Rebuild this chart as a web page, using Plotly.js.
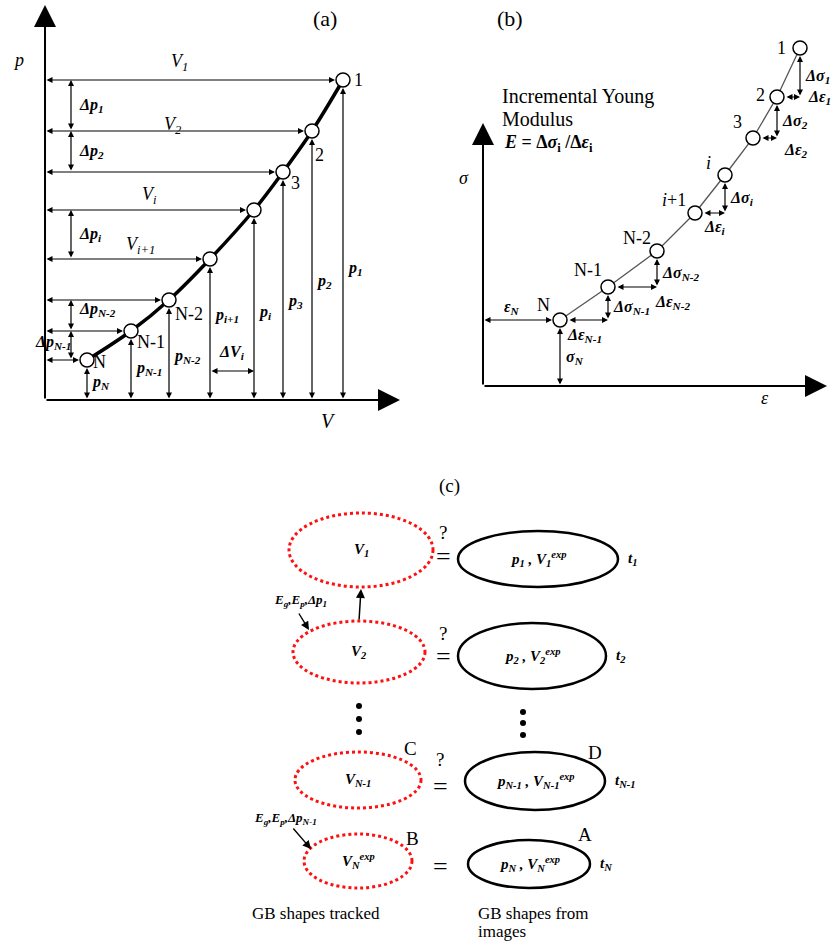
<!DOCTYPE html>
<html><head><meta charset="utf-8">
<script src="https://cdn.plot.ly/plotly-3.0.1.min.js"></script>
<style>html,body{margin:0;padding:0;background:#fff}</style>
</head><body><div id="chart" style="width:838px;height:944px"></div>
<script>
// ---------------- DATA ----------------
// Panel (a): pressure-volume path, points 1 ... N
const aNames = ['1','2','3','i','i+1','N-2','N-1','N'];
const aV = [298, 267, 238, 209, 165, 124, 86, 42];
const aP = [320, 269, 228, 190, 141, 100, 69, 40];
const aPointLabels = ['1','2','3','','','N-2','N-1','N'];
const aVLabels = ['V<sub>1</sub>','V<sub>2</sub>','','V<sub>i</sub>','V<sub>i+1</sub>','','',''];
const aPLabels = ['p<sub>1</sub>','p<sub>2</sub>','p<sub>3</sub>','p<sub>i</sub>','p<sub>i+1</sub>','p<sub>N-2</sub>','p<sub>N-1</sub>','p<sub>N</sub>'];
const aDpPairs = [[0,1],[1,2],[3,4],[5,6],[6,7]];
const aDpLabels = ['Δp<sub>1</sub>','Δp<sub>2</sub>','Δp<sub>i</sub>','Δp<sub>N-2</sub>','Δp<sub>N-1</sub>'];

// Panel (b): stress-strain path, points 1 ... N
const bNames = ['1','2','3','i','i+1','N-2','N-1','N'];
const bEps = [317, 294, 270, 242, 212, 174, 125, 77];
const bSig = [338, 289, 248, 211, 173, 135, 99, 66];
const bSteps = [[1,0],[2,1],[4,3],[6,5],[7,6]];   // [lower point, upper point]
const bDSigLabels = ['Δσ<sub>1</sub>','Δσ<sub>2</sub>','Δσ<sub>i</sub>','Δσ<sub>N-2</sub>','Δσ<sub>N-1</sub>'];
const bDEpsLabels = ['Δε<sub>1</sub>','Δε<sub>2</sub>','Δε<sub>i</sub>','Δε<sub>N-2</sub>','Δε<sub>N-1</sub>'];

// Panel (c): tracked vs imaged GB shapes
const cTracked = ['V<sub>1</sub>','V<sub>2</sub>','V<sub>N-1</sub>','V<sub>N</sub><sup>exp</sup>'];
const cImaged = ['p<sub>1</sub> , V<sub>1</sub><sup>exp</sup>','p<sub>2</sub> , V<sub>2</sub><sup>exp</sup>','p<sub>N-1</sub> , V<sub>N-1</sub><sup>exp</sup>','p<sub>N</sub> , V<sub>N</sub><sup>exp</sup>'];
const cTimes = ['t<sub>1</sub>','t<sub>2</sub>','t<sub>N-1</sub>','t<sub>N</sub>'];
const cRelation = ['?','?','?',''];
const cInputs = ['E<sub>g</sub>,E<sub>p</sub>,Δp<sub>1</sub>','E<sub>g</sub>,E<sub>p</sub>,Δp<sub>N-1</sub>'];

// ---------------- LAYOUT GEOMETRY (pixels) ----------------
const redGeo = [[361,550,72,37],[359,652,66,31],[358,780,63,28],[358,861,54,27]];
const blackGeo = [[538,559,80,28],[532,656,74,33],[535,781,70,29],[529,864,61,24]];
const relX = [443,443,440,440], eqY = [556,656,786,866], qY = [532,633,759];
const dotsL = {x:[359,359,359], y:[706,719,732]};
const dotsR = {x:[523,523,523], y:[712,723,735]};

const ann = [], shapes = [];
const SER = 'Liberation Serif, Times New Roman, serif';
function arr(xr, yr, x0, y0, x1, y1, both, w, s) {
  ann.push({xref:xr, yref:yr, axref:xr, ayref:yr, x:x1, y:y1, ax:x0, ay:y0, text:'', showarrow:true,
    arrowhead:2, arrowsize:s||1, arrowwidth:w||1.2, arrowcolor:'#000', arrowside: both?'end+start':'end',
    startarrowhead:2, startarrowsize:s||1, standoff:0, startstandoff:0});
}
function txt(xr, yr, x, y, t, o) {
  ann.push(Object.assign({xref:xr, yref:yr, x:x, y:y, text:t, showarrow:false,
    font:{family:SER, size:16, color:'#000'}}, o||{}));
}
const bi = t => '<b><i>' + t + '</i></b>';
const R = 8;

// ---------- Panel (a) ----------
arr('x','y',0,0,0,395,false,2,2.2);
arr('x','y',0,0,355,0,false,2,2.2);
const aVfrac = [0.45,0.48,0,0.5,0.58,0,0,0], aVdy = [16,4,0,13,12,0,0,0];
const aPfrac = [0.41,0.44,0.43,0.46,0.6,0.44,0.46,0.43];
const aLdx = [9,1,6,0,0,4,4,4], aLdy = [0,24,11,0,0,14,11,2];
aV.forEach((v,k) => {
  arr('x','y',0,aP[k],v-R,aP[k],true);
  arr('x','y',v,0,v,aP[k]-R,true);
  if (aVLabels[k]) txt('x','y',v*aVfrac[k],aP[k],'<i>'+aVLabels[k]+'</i>',{yshift:aVdy[k]+2, font:{family:SER,size:18,color:'#000'}});
  txt('x','y',v+2,aP[k]*aPfrac[k],bi(aPLabels[k]),{xanchor:'left'});
  if (aPointLabels[k]) txt('x','y',v+aLdx[k],aP[k],aPointLabels[k],{xanchor:'left',yshift:-aLdy[k],font:{family:SER,size:18,color:'#000'}});
});
aDpPairs.forEach((pr,j) => {
  arr('x','y',26,aP[pr[1]],26,aP[pr[0]],true);
  const mid = (aP[pr[0]]+aP[pr[1]])/2;
  if (j < 4) txt('x','y',32,mid,bi(aDpLabels[j]),{xanchor:'left', yshift: j===3?6:0});
  else txt('x','y',28,mid,bi(aDpLabels[j]),{xanchor:'right', yshift:3});
});
// ΔV_i
arr('x','y',aV[4],29,aV[3],29,true);
txt('x','y',(aV[3]+aV[4])/2,48,bi('ΔV<sub>i</sub>'));

// ---------- Panel (b) ----------
arr('x2','y2',0,0,0,263,false,2,2.2);
arr('x2','y2',0,0,344,0,false,2,2.2);
const N = bEps.length-1;
arr('x2','y2',0,bSig[N],bEps[N]-R,bSig[N],true);
txt('x2','y2',29,bSig[N],bi('ε<sub>N</sub>'),{yshift:13});
arr('x2','y2',bEps[N],0,bEps[N],bSig[N]-R,true);
txt('x2','y2',bEps[N]+4,29,bi('σ<sub>N</sub>'),{xanchor:'left'});
const epsPlace = [{xa:'left',dx:6,dy:0},{xa:'left',dx:5,dy:-12},{xa:'center',dx:5,dy:-14},{xa:'left',dx:-4,dy:-15},{xa:'center',dx:0,dy:-15}];
bSteps.forEach((st,j) => {
  const lo = st[0], up = st[1];
  arr('x2','y2',bEps[lo]+R,bSig[lo],bEps[up],bSig[lo],true);
  arr('x2','y2',bEps[up],bSig[lo],bEps[up],bSig[up]-R,true);
  txt('x2','y2',bEps[up]+3,(bSig[lo]+bSig[up]-R)/2,bi(bDSigLabels[j]),{xanchor:'left'});
  const pl = epsPlace[j];
  const ex = pl.xa==='center' ? (bEps[lo]+bEps[up])/2 : bEps[up];
  txt('x2','y2',ex+pl.dx,bSig[lo],bi(bDEpsLabels[j]),{xanchor:pl.xa, yshift:pl.dy});
});
const bLdx = [-12,-10,-9,-12,-7,-4,-4,-8], bLdy = [0,-2,-16,-12,-13,-13,-17,-15];
bNames.forEach((n,k) => {
  txt('x2','y2',bEps[k]+bLdx[k],bSig[k],n.replace(/^i/,'<i>i</i>'),{xanchor:'right',yshift:-bLdy[k],font:{family:SER,size:18,color:'#000'}});
});
txt('x3','y3',510,18,'(b)',{font:{family:SER,size:22,color:'#000'}});
txt('x3','y3',500,96,'Incremental Young',{xanchor:'left',font:{family:SER,size:20,color:'#000'}});
txt('x3','y3',500,119,'Modulus',{xanchor:'left',font:{family:SER,size:20,color:'#000'}});
txt('x3','y3',502,143,'<b><i>E</i> = Δ<i>σ</i><sub>i</sub> /Δ<i>ε</i><sub>i</sub></b>',{xanchor:'left',font:{family:SER,size:18,color:'#000'}});
txt('x3','y3',464,178,'<i>σ</i>',{font:{family:SER,size:18,color:'#000'}});
txt('x3','y3',765,398,'<i>ε</i>',{font:{family:SER,size:18,color:'#000'}});

// panel (a) text
txt('x3','y3',325,18,'(a)',{font:{family:SER,size:22,color:'#000'}});
txt('x3','y3',18,60,'<i>p</i>',{font:{family:SER,size:18,color:'#000'}});
txt('x3','y3',328,421,'<i>V</i>',{font:{family:SER,size:20,color:'#000'}});

// ---------- Panel (c) ----------
txt('x3','y3',449,486,'(c)',{font:{family:SER,size:19,color:'#000'}});
redGeo.forEach((g,k) => {
  shapes.push({type:'circle',xref:'x3',yref:'y3',x0:g[0]-g[2],x1:g[0]+g[2],y0:g[1]-g[3],y1:g[1]+g[3],
    line:{color:'#ff1010',width:3,dash:'dot'}});
  txt('x3','y3',g[0],g[1],bi(cTracked[k]),{font:{family:SER,size:15,color:'#000'}});
});
blackGeo.forEach((g,k) => {
  shapes.push({type:'circle',xref:'x3',yref:'y3',x0:g[0]-g[2],x1:g[0]+g[2],y0:g[1]-g[3],y1:g[1]+g[3],
    line:{color:'#000',width:2.5}});
  txt('x3','y3',g[0],g[1],bi(cImaged[k]),{font:{family:SER,size:15,color:'#000'}});
  txt('x3','y3',g[0]+g[2]+8,g[1],bi(cTimes[k]),{xanchor:'left',font:{family:SER,size:15,color:'#000'}});
  txt('x3','y3',relX[k],eqY[k],'=',{font:{family:SER,size:26,color:'#000'}});
  if (cRelation[k]) txt('x3','y3',relX[k],qY[k],cRelation[k],{font:{family:SER,size:19,color:'#000'}});
});
arr('x3','y3',redGeo[1][0],redGeo[1][1]-redGeo[1][3],redGeo[0][0],redGeo[0][1]+redGeo[0][3]+2,false,1.5,1.2);
txt('x3','y3',300,600,bi(cInputs[0]),{font:{family:SER,size:13,color:'#000'}});
arr('x3','y3',298,612,309,630,false,1.4,1.2);
txt('x3','y3',285,818,bi(cInputs[1]),{font:{family:SER,size:13,color:'#000'}});
arr('x3','y3',292,827,311,849,false,1.4,1.2);
txt('x3','y3',410,748,'C',{font:{family:SER,size:19,color:'#000'}});
txt('x3','y3',595,752,'D',{font:{family:SER,size:19,color:'#000'}});
txt('x3','y3',412,838,'B',{font:{family:SER,size:19,color:'#000'}});
txt('x3','y3',585,834,'A',{font:{family:SER,size:19,color:'#000'}});
txt('x3','y3',316,913,'GB shapes tracked',{font:{family:SER,size:17,color:'#000'}});
txt('x3','y3',476,913,'GB shapes from',{xanchor:'left',font:{family:SER,size:17,color:'#000'}});
txt('x3','y3',476,943,'images',{xanchor:'left',yanchor:'bottom',font:{family:SER,size:17,color:'#000'}});

// ---------------- TRACES ----------------
const mk = {size:14, color:'#fff', line:{width:1.5, color:'#000'}};
const traces = [
  {x:aV, y:aP, xaxis:'x', yaxis:'y', mode:'lines+markers', line:{shape:'spline', width:3.5, color:'#000'}, marker:mk, cliponaxis:false},
  {x:bEps, y:bSig, xaxis:'x2', yaxis:'y2', mode:'lines+markers', line:{width:1.3, color:'#555'}, marker:mk, cliponaxis:false},
  {x:dotsL.x, y:dotsL.y, xaxis:'x3', yaxis:'y3', mode:'markers', marker:{size:6,color:'#000'}},
  {x:dotsR.x, y:dotsR.y, xaxis:'x3', yaxis:'y3', mode:'markers', marker:{size:6,color:'#000'}}
];
const ax = r => ({domain:[0,1], range:r, visible:false, fixedrange:true});
const layout = {
  width:838, height:944, margin:{l:0,r:0,t:0,b:0}, showlegend:false, hovermode:false,
  paper_bgcolor:'#fff', plot_bgcolor:'rgba(0,0,0,0)', font:{family:SER, color:'#000'},
  xaxis:Object.assign(ax([-45,793]),{anchor:'y'}), yaxis:Object.assign(ax([-544,400]),{anchor:'x'}),
  xaxis2:Object.assign(ax([-483,355]),{anchor:'y2',overlaying:'x'}), yaxis2:Object.assign(ax([-558,386]),{anchor:'x2',overlaying:'y'}),
  xaxis3:Object.assign(ax([0,838]),{anchor:'y3',overlaying:'x'}), yaxis3:Object.assign(ax([944,0]),{anchor:'x3',overlaying:'y'}),
  annotations:ann, shapes:shapes
};
Plotly.newPlot('chart', traces, layout, {staticPlot:true, displayModeBar:false});
</script></body></html>
